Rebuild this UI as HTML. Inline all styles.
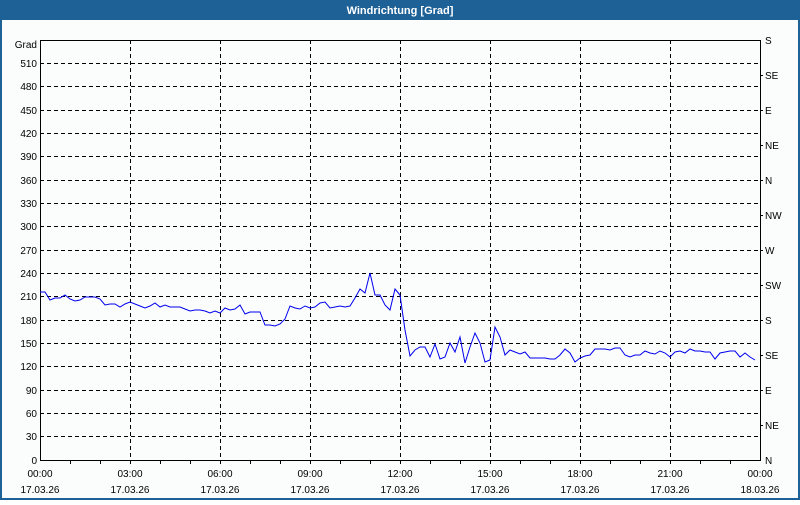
<!DOCTYPE html>
<html><head><meta charset="utf-8"><style>
html,body{margin:0;padding:0;}
body{width:800px;height:500px;overflow:hidden;font-family:"Liberation Sans",sans-serif;}
</style></head><body>
<svg width="800" height="500" xmlns="http://www.w3.org/2000/svg" font-family="Liberation Sans, sans-serif" font-size="10">
<rect x="0" y="0" width="800" height="500" fill="#1e6197"/>
<rect x="2" y="20" width="796" height="478" fill="#fbfdfd"/>
<text x="400" y="14" fill="#fff" font-weight="bold" font-size="11" text-anchor="middle">Windrichtung [Grad]</text>
<g stroke="#000" stroke-width="1" stroke-dasharray="4,3" fill="none">
<path d="M40 63.5H760M40 86.5H760M40 110.5H760M40 133.5H760M40 156.5H760M40 180.5H760M40 203.5H760M40 226.5H760M40 250.5H760M40 273.5H760M40 296.5H760M40 320.5H760M40 343.5H760M40 366.5H760M40 390.5H760M40 413.5H760M40 436.5H760"/>
<path d="M130.5 40V460M220.5 40V460M310.5 40V460M400.5 40V460M490.5 40V460M580.5 40V460M670.5 40V460"/>
</g>
<g stroke="#000" stroke-width="1" fill="none">
<path d="M40.5 40V460.5H760.5V40M40 40.5H760"/>
<path d="M70.5 460v4M100.5 460v4M130.5 460v4M160.5 460v4M190.5 460v4M220.5 460v4M250.5 460v4M280.5 460v4M310.5 460v4M340.5 460v4M370.5 460v4M400.5 460v4M430.5 460v4M460.5 460v4M490.5 460v4M520.5 460v4M550.5 460v4M580.5 460v4M610.5 460v4M640.5 460v4M670.5 460v4M700.5 460v4M730.5 460v4"/>
<path d="M760 75.5h3M760 110.5h3M760 145.5h3M760 180.5h3M760 215.5h3M760 250.5h3M760 285.5h3M760 320.5h3M760 355.5h3M760 390.5h3M760 425.5h3"/>
</g>
<g fill="#000" text-anchor="end">
<text x="37" y="48">Grad</text>
<text x="37" y="67">510</text><text x="37" y="90">480</text><text x="37" y="114">450</text><text x="37" y="137">420</text><text x="37" y="160">390</text><text x="37" y="184">360</text><text x="37" y="207">330</text><text x="37" y="230">300</text><text x="37" y="254">270</text><text x="37" y="277">240</text><text x="37" y="300">210</text><text x="37" y="324">180</text><text x="37" y="347">150</text><text x="37" y="370">120</text><text x="37" y="394">90</text><text x="37" y="417">60</text><text x="37" y="440">30</text><text x="37" y="464">0</text>
</g>
<g fill="#000">
<text x="765" y="44">S</text><text x="765" y="79">SE</text><text x="765" y="114">E</text><text x="765" y="149">NE</text><text x="765" y="184">N</text><text x="765" y="219">NW</text><text x="765" y="254">W</text><text x="765" y="289">SW</text><text x="765" y="324">S</text><text x="765" y="359">SE</text><text x="765" y="394">E</text><text x="765" y="429">NE</text><text x="765" y="464">N</text>
</g>
<g fill="#000" text-anchor="middle">
<text x="40" y="477">00:00</text><text x="130" y="477">03:00</text><text x="220" y="477">06:00</text><text x="310" y="477">09:00</text><text x="400" y="477">12:00</text><text x="490" y="477">15:00</text><text x="580" y="477">18:00</text><text x="670" y="477">21:00</text><text x="760" y="477">00:00</text>
<text x="40" y="493">17.03.26</text><text x="130" y="493">17.03.26</text><text x="220" y="493">17.03.26</text><text x="310" y="493">17.03.26</text><text x="400" y="493">17.03.26</text><text x="490" y="493">17.03.26</text><text x="580" y="493">17.03.26</text><text x="670" y="493">17.03.26</text><text x="760" y="493">18.03.26</text>
</g>
<polyline fill="none" stroke="#0000ee" stroke-width="1" points="40,292 45,292 50,300 55,298 60,298 65,295 70,299 75,301 80,300 85,297 90,297 95,297 100,299 105,305 110,304 115,304 120,307 125,304 130,302 135,304 140,306 145,308 150,306 155,303 160,307 165,305 170,307 175,307 180,307 185,309 190,311 195,310 200,310 205,311 210,313 215,311 220,313 225,308 230,310 235,309 240,305 245,314 250,312 255,312 260,312 265,325 270,325 275,326 280,324 285,319 290,306 295,308 300,309 305,306 310,308 315,307 320,303 325,302 330,308 335,307 340,306 345,307 350,306 355,298 360,289 365,293 370,273 375,295 380,295 385,305 390,310 395,289 400,295 405,330 410,356 415,350 420,347 425,347 430,357 435,344 440,359 445,357 450,343 455,352 460,337 465,363 470,347 475,333 480,343 485,362 490,360 495,327 500,337 505,355 510,350 515,352 520,354 525,352 530,358 535,358 540,358 545,358 550,359 555,359 560,355 565,349 570,353 575,362 580,358 585,356 590,355 595,349 600,349 605,349 610,350 615,348 620,348 625,355 630,357 635,355 640,355 645,351 650,353 655,354 660,351 665,353 670,357 675,352 680,351 685,353 690,349 695,351 700,351 705,352 710,352 715,359 720,353 725,352 730,351 735,351 740,357 745,353 750,357 755,360"/>
</svg>
</body></html>
